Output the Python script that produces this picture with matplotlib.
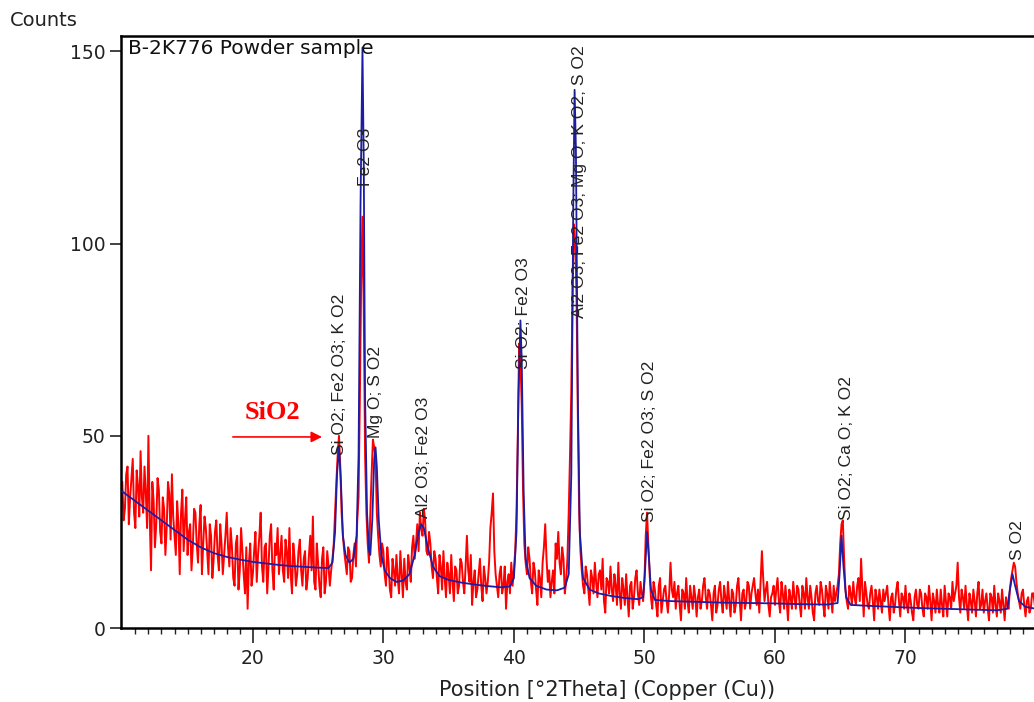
import matplotlib
matplotlib.use("Agg")
import matplotlib.pyplot as plt
import numpy as np

# ---------------- data ----------------
# measured (red) pattern, 2theta 10.0-80.0, samples on the even 0.2 grid
red_start, red_step = 10.0, 0.2
red_counts = [
    38, 31, 42, 34, 44, 26, 37, 46, 30, 35,   # 10.0-11.8
    50, 15, 33, 27, 36, 22, 31, 26, 35, 40,   # 12.0-13.8
    24, 33, 14, 36, 28, 19, 27, 21, 30, 17,   # 14.0-15.8
    32, 22, 26, 14, 24, 18, 28, 15, 22, 19,   # 16.0-17.8
    30, 16, 21, 11, 24, 15, 20, 9, 5, 22,     # 18.0-19.8
    14, 25, 19, 30, 12, 22, 16, 27, 10, 19,   # 20.0-21.8
    14, 24, 12, 20, 26, 9, 18, 14, 23, 11,    # 22.0-23.8
    20, 13, 24, 29, 10, 17, 8, 21, 12, 16,    # 24.0-25.8
    15, 22, 38, 50, 30, 20, 14, 20, 13, 22,   # 26.0-27.8
    28, 60, 107, 45, 22, 30, 49, 44, 24, 16,  # 28.0-29.8
    20, 11, 17, 8, 15, 19, 9, 14, 18, 10,     # 30.0-31.8
    16, 21, 18, 27, 30, 24, 28, 19, 22, 13,   # 32.0-33.8
    18, 9, 16, 20, 8, 14, 19, 7, 15, 11,      # 34.0-35.8
    17, 9, 24, 12, 6, 15, 10, 18, 7, 13,      # 36.0-37.8
    12, 26, 35, 14, 8, 16, 11, 5, 14, 17,     # 38.0-39.8
    15, 30, 74, 58, 22, 14, 18, 9, 15, 6,     # 40.0-41.8
    13, 17, 27, 12, 8, 15, 22, 25, 14, 18,    # 42.0-43.8
    12, 30, 62, 105, 86, 30, 15, 9, 14, 6,    # 44.0-45.8
    13, 17, 8, 15, 18, 4, 12, 16, 7, 11,      # 46.0-47.8
    17, 5, 10, 14, 3, 12, 8, 15, 6, 9,        # 48.0-49.8
    12, 30, 14, 5, 10, 3, 13, 7, 11, 4,       # 50.0-51.8
    17, 8, 5, 11, 2, 9, 13, 4, 8, 11,         # 52.0-53.8
    3, 10, 7, 13, 5, 9, 2, 11, 6, 12,         # 54.0-55.8
    4, 8, 12, 3, 9, 6, 13, 2, 10, 7,          # 56.0-57.8
    11, 9, 13, 6, 4, 20, 7, 12, 3, 9,         # 58.0-59.8
    6, 13, 4, 9, 11, 2, 8, 12, 5, 10,         # 60.0-61.8
    3, 9, 13, 5, 8, 2, 11, 6, 10, 3,          # 62.0-63.8
    9, 12, 4, 7, 11, 22, 28, 10, 5, 9,        # 64.0-65.8
    12, 6, 13, 18, 3, 9, 5, 11, 2, 8,         # 66.0-67.8
    10, 4, 7, 11, 2, 9, 6, 12, 3, 8,          # 68.0-69.8
    11, 4, 7, 2, 10, 5, 9, 3, 8, 11,          # 70.0-71.8
    2, 7, 10, 4, 6, 11, 3, 8, 12, 9,          # 72.0-73.8
    17, 4, 8, 11, 2, 7, 10, 3, 12, 6,         # 74.0-75.8
    4, 9, 2, 8, 11, 3, 7, 10, 2, 6,           # 76.0-77.8
    10, 15, 16, 9, 5, 10, 3, 8, 5, 9,         # 78.0-79.8
    4,                                        # 80.0
]
# samples on the odd grid (10.1, 10.3, ... 79.9)
red_counts_odd = [
    28, 40, 27, 39, 30, 41, 29, 34, 42, 26,   # 10.1-11.9
    29, 38, 21, 39, 25, 34, 19, 38, 23, 29,   # 12.1-13.9
    19, 27, 30, 20, 34, 25, 15, 31, 22, 27,   # 14.1-15.9
    14, 29, 20, 27, 13, 25, 19, 27, 14, 24,   # 16.1-17.9
    21, 26, 13, 22, 10, 26, 14, 21, 17, 11,   # 18.1-19.9
    20, 12, 24, 16, 21, 9, 24, 15, 22, 26,    # 20.1-21.9
    19, 15, 23, 13, 14, 22, 11, 20, 15, 18,   # 22.1-23.9
    10, 19, 15, 12, 22, 11, 18, 9, 20, 11,    # 24.1-25.9
    18, 30, 45, 42, 24, 17, 21, 12, 19, 16,   # 26.1-27.9
    34, 90, 82, 30, 17, 40, 47, 30, 19, 22,   # 28.1-29.9
    14, 21, 10, 18, 11, 13, 20, 8, 12, 19,    # 30.1-31.9
    12, 24, 22, 20, 26, 31, 20, 25, 16, 20,   # 32.1-33.9
    13, 19, 10, 13, 17, 9, 12, 16, 9, 18,     # 34.1-35.9
    12, 16, 15, 19, 12, 8, 14, 11, 16, 9,     # 36.1-37.9
    17, 30, 20, 11, 14, 9, 16, 12, 9, 11,     # 38.1-39.9
    20, 50, 70, 36, 17, 21, 12, 17, 10, 15,   # 40.1-41.9
    8, 21, 18, 15, 12, 9, 18, 17, 21, 9,      # 42.1-43.9
    18, 45, 90, 100, 55, 20, 11, 16, 10, 15,  # 44.1-45.9
    9, 12, 14, 10, 7, 13, 9, 10, 14, 6,       # 46.1-47.9
    9, 13, 6, 8, 11, 5, 13, 9, 12, 7,         # 48.1-49.9
    24, 22, 8, 12, 6, 11, 4, 10, 7, 9,        # 50.1-51.9
    10, 12, 9, 6, 10, 5, 7, 11, 5, 8,         # 52.1-53.9
    8, 5, 11, 8, 10, 6, 9, 4, 10, 7,          # 54.1-55.9
    11, 5, 7, 10, 4, 11, 7, 9, 5, 12,         # 56.1-57.9
    5, 11, 9, 10, 12, 13, 10, 6, 8, 11,       # 58.1-59.9
    10, 7, 12, 5, 7, 10, 5, 8, 11, 6,         # 60.1-61.9
    11, 5, 8, 11, 4, 9, 7, 12, 6, 11,         # 62.1-63.9
    5, 8, 11, 9, 14, 27, 18, 7, 11, 6,        # 64.1-65.9
    8, 11, 7, 10, 12, 6, 9, 7, 10, 5,         # 66.1-67.9
    7, 10, 9, 6, 8, 4, 10, 7, 9, 5,           # 68.1-69.9
    6, 9, 4, 8, 6, 10, 5, 9, 5, 7,            # 70.1-71.9
    9, 4, 6, 10, 3, 7, 9, 5, 7, 11,           # 72.1-73.9
    8, 10, 5, 6, 9, 4, 7, 9, 5, 10,           # 74.1-75.9
    7, 5, 9, 4, 6, 9, 4, 6, 8, 5,             # 76.1-77.9
    13, 17, 12, 7, 9, 6, 7, 4, 9, 6,          # 78.1-79.9
]

# fitted profile (blue)
fit_theta = [10.0, 11.0, 12.0, 13.0, 14.0, 15.0, 16.0, 17.0, 18.0, 19.0,
             20.0, 21.0, 22.0, 23.0, 24.0, 25.0, 25.8, 26.1, 26.3, 26.45,
             26.6, 26.75, 26.9, 27.1, 27.4, 27.7, 27.95, 28.1, 28.25, 28.4,
             28.5, 28.6, 28.75, 28.9, 29.0, 29.15, 29.3, 29.4, 29.5, 29.65,
             29.85, 30.1, 30.5, 31.0, 31.5, 32.0, 32.4, 32.7, 32.9, 33.1,
             33.4, 33.8, 34.3, 35.0, 36.0, 37.0, 38.0, 39.0, 39.7, 40.0,
             40.2, 40.35, 40.5, 40.6, 40.75, 40.9, 41.2, 41.7, 42.5, 43.3,
             43.9, 44.2, 44.4, 44.55, 44.65, 44.75, 44.9, 45.05, 45.3, 45.8,
             46.5, 47.5, 48.5, 49.5, 49.9, 50.05, 50.2, 50.35, 50.5, 50.8,
             52.0, 54.0, 56.0, 58.0, 60.0, 62.0, 64.0, 64.8, 64.95, 65.1,
             65.25, 65.45, 65.8, 67.0, 69.0, 71.0, 73.0, 75.0, 77.0, 77.8,
             78.0, 78.2, 78.4, 78.7, 79.2, 80.0]
fit_counts = [35.5, 33.0, 30.5, 28.0, 25.5, 23.0, 21.0, 19.5, 18.5, 17.8,
              17.2, 16.8, 16.4, 16.1, 15.9, 15.7, 15.6, 17.0, 25.0, 40.0,
              47.0, 38.0, 24.0, 19.0, 17.0, 18.0, 24.0, 45.0, 110.0, 151.0,
              120.0, 60.0, 30.0, 20.0, 19.0, 28.0, 44.0, 47.0, 42.0, 28.0,
              19.0, 15.0, 13.0, 12.0, 12.3, 14.0, 19.0, 25.0, 27.0, 26.0,
              21.0, 16.0, 13.5, 12.5, 11.8, 11.3, 10.9, 10.6, 10.8, 13.0,
              25.0, 60.0, 80.0, 70.0, 35.0, 18.0, 13.0, 11.0, 10.0, 9.8,
              10.5, 14.0, 40.0, 110.0, 140.0, 125.0, 60.0, 25.0, 13.0, 10.0,
              9.0, 8.3, 7.8, 7.5, 8.0, 15.0, 25.0, 18.0, 10.0, 7.3,
              7.0, 6.8, 6.6, 6.5, 6.4, 6.2, 6.1, 6.5, 14.0, 24.0,
              16.0, 8.0, 6.0, 5.8, 5.5, 5.2, 5.0, 4.8, 4.6, 5.0,
              10.0, 14.0, 11.0, 7.0, 5.5, 5.0]

# peak labels: text, 2theta position, count where the label starts
peak_labels = ["Si O2; Fe2 O3; K O2", "Fe2 O3", "Mg O; S O2", "Al2 O3; Fe2 O3",
               "Si O2; Fe2 O3", "Al2 O3; Fe2 O3; Mg O; K O2; S O2",
               "Si O2; Fe2 O3; S O2", "Si O2; Ca O; K O2", "S O2"]
label_theta = [26.65, 28.66, 29.43, 33.1, 40.7, 45.05, 50.4, 65.5, 78.6]
label_start = [45.0, 115.0, 49.5, 28.6, 67.5, 80.7, 27.6, 28.1, 17.7]

x_major = [20, 30, 40, 50, 60, 70]
y_major = [0, 50, 100, 150]

# ---------------- figure ----------------
W, H = 1034, 702
fig = plt.figure(figsize=(W / 100, H / 100), dpi=100)
ax = fig.add_axes([121 / W, 74 / H, (1036 - 121) / W, (628 - 36) / H])

th_even = red_start + red_step * np.arange(len(red_counts))
th_odd = red_start + red_step / 2 + red_step * np.arange(len(red_counts_odd))
red_theta = np.concatenate([th_even, th_odd])
red_vals = np.concatenate([red_counts, red_counts_odd])
order = np.argsort(red_theta)
ax.plot(red_theta[order], red_vals[order], color="#ff0000", lw=1.4, zorder=2)
ax.plot(fit_theta, fit_counts, color="#1c1ca4", lw=1.3, zorder=3)

ax.set_xlim(9.9, 80.0)
ax.set_ylim(0, 154)

for side in ["top", "left", "bottom"]:
    ax.spines[side].set_linewidth(1.8)
    ax.spines[side].set_color("black")
ax.spines["right"].set_visible(False)

ax.set_xticks(x_major)
ax.set_xticks([v for v in range(11, 80) if v not in x_major], minor=True)
ax.set_yticks(y_major)
ax.tick_params(axis="x", which="major", direction="out", length=11, width=1.2,
               labelsize=13.5, pad=4, colors="#222222")
ax.tick_params(axis="x", which="minor", direction="out", length=4, width=1.0,
               colors="#222222")
ax.tick_params(axis="y", which="major", direction="out", length=8, width=1.2,
               labelsize=13.5, pad=3, colors="#222222")
for lab in ax.get_xticklabels() + ax.get_yticklabels():
    lab.set_family("DejaVu Sans")

# texts
fig.text(10 / W, 1 - 20 / H, "Counts", fontsize=14, family="DejaVu Sans",
         ha="left", va="center", color="#222222")
fig.text(607 / W, 1 - 690 / H, "Position [°2Theta] (Copper (Cu))", fontsize=15,
         family="DejaVu Sans", ha="center", va="center", color="#222222")
ax.text((128 - 121) / (1036 - 121), 1 - (48 - 36) / (628 - 36),
        "B-2K776 Powder sample", transform=ax.transAxes, fontsize=14.5,
        family="DejaVu Sans", ha="left", va="center", color="#111111", zorder=4)

for txt, xt, yt in zip(peak_labels, label_theta, label_start):
    ax.text(xt, yt, txt, rotation=90, ha="center", va="bottom",
            fontsize=12.6, family="Liberation Sans", color="#222222", zorder=4)

# SiO2 marker
ax.text(21.53, 56, "SiO2", fontsize=19, family="Liberation Serif",
        fontweight="bold", color="#ff0000", ha="center", va="center", zorder=5)
ax.annotate("", xy=(25.3, 49.7), xytext=(18.47, 49.7),
            arrowprops=dict(arrowstyle="-|>", color="#ff0000", lw=1.2,
                            mutation_scale=16, shrinkA=0, shrinkB=0), zorder=5)

fig.savefig("out.png", dpi=100)
